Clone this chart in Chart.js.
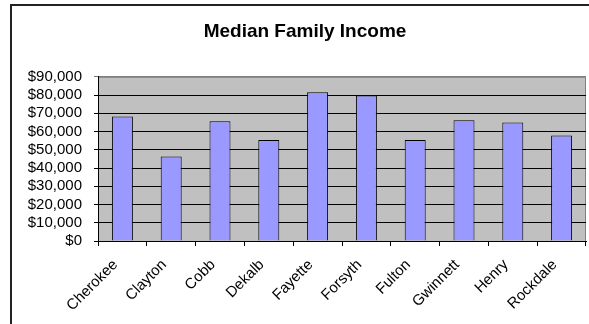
<!DOCTYPE html>
<html>
<head>
<meta charset="utf-8">
<script src="https://cdn.jsdelivr.net/npm/chart.js@4.4.1/dist/chart.umd.min.js"></script>
<style>
  html, body { margin: 0; padding: 0; background: #fff; overflow: hidden; }
  #wrap { position: relative; width: 589px; height: 324px; }
  #frame {
    position: absolute; left: 10px; top: 4px; width: 700px; height: 500px;
    border-left: 2px solid #222; border-top: 2px solid #222;
  }
  canvas { position: absolute; left: 0; top: 0; }
</style>
</head>
<body>
<div id="wrap">
  <div id="frame"></div>
  <canvas id="incomeChart" width="589" height="324"></canvas>
</div>
<script>
// Chart data
const counties = ["Cherokee", "Clayton", "Cobb", "Dekalb", "Fayette", "Forsyth", "Fulton", "Gwinnett", "Henry", "Rockdale"];
const medianIncome = [68200, 46300, 65700, 55300, 81600, 79700, 55300, 66200, 64900, 57800];
const yMin = 0;
const yMax = 90000;
const yStep = 10000;

const fontFamily = "'Liberation Sans', Arial, Helvetica, sans-serif";

// Fill the plot area grey and outline top/right like the old spreadsheet look
const plotBackground = {
  id: "plotBackground",
  beforeDraw(chart) {
    const { ctx, chartArea: a } = chart;
    ctx.save();
    ctx.fillStyle = "#c0c0c0";
    ctx.fillRect(a.left, a.top, a.right - a.left, a.bottom - a.top);
    ctx.strokeStyle = "#808080";
    ctx.lineWidth = 1;
    ctx.beginPath();
    ctx.moveTo(a.left, a.top + 0.5);
    ctx.lineTo(a.right - 0.5, a.top + 0.5);
    ctx.lineTo(a.right - 0.5, a.bottom);
    ctx.stroke();
    ctx.restore();
  }
};

function formatDollars(v) {
  return "$" + Number(v).toLocaleString("en-US");
}

const canvas = document.getElementById("incomeChart");

new Chart(canvas, {
  type: "bar",
  data: {
    labels: counties,
    datasets: [{
      label: "Median Family Income",
      data: medianIncome,
      backgroundColor: "#9999ff",
      borderColor: "#000",
      borderWidth: 1,
      categoryPercentage: 1,
      barPercentage: 0.43
    }]
  },
  options: {
    responsive: false,
    animation: false,
    devicePixelRatio: 1,
    // left padding pushes the title centre right, as in the cropped original
    layout: { padding: { left: 24, right: 3, top: 0, bottom: 0 } },
    plugins: {
      legend: { display: false },
      tooltip: { enabled: false },
      title: {
        display: true,
        text: "Median Family Income",
        color: "#000",
        font: { family: fontFamily, size: 19, weight: "bold", lineHeight: 1.2 },
        padding: { top: 20, bottom: 34 }
      }
    },
    scales: {
      x: {
        grid: {
          display: true,
          offset: true,
          drawOnChartArea: false,
          drawTicks: true,
          tickLength: 5,
          color: "#000"
        },
        border: { display: true, color: "#000", width: 1 },
        ticks: {
          color: "#000",
          font: { family: fontFamily, size: 15 },
          maxRotation: 45,
          minRotation: 45,
          padding: 10,
          labelOffset: -7,
          autoSkip: false
        },
        afterFit(scale) { scale.height = 83; }
      },
      y: {
        min: yMin,
        max: yMax,
        grid: {
          // top line is the grey plot border, the rest are black
          color: c => (c.tick && c.tick.value === yMax ? "#808080" : "#000"),
          lineWidth: 1,
          drawTicks: true,
          tickLength: 4
        },
        border: { display: true, color: "#000", width: 1 },
        ticks: {
          stepSize: yStep,
          autoSkip: false,
          color: "#000",
          padding: 12,
          font: { family: fontFamily, size: 15 },
          callback: formatDollars
        },
        afterFit(scale) { scale.width = 74; }
      }
    }
  },
  plugins: [plotBackground]
});
</script>
</body>
</html>
